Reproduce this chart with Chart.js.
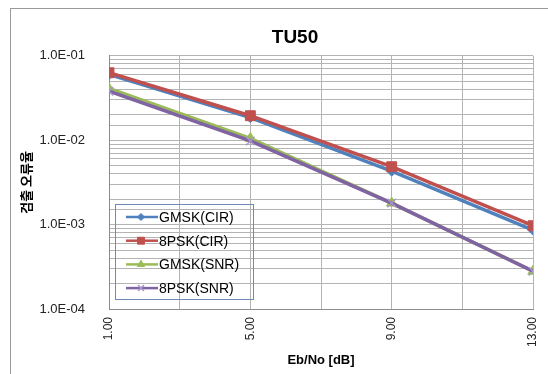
<!DOCTYPE html>
<html>
<head>
<meta charset="utf-8">
<script src="https://cdn.jsdelivr.net/npm/chart.js@4.4.1/dist/chart.umd.min.js"></script>
<style>
  html, body { margin: 0; padding: 0; background: #fff; overflow: hidden; }
  #wrap { width: 548px; height: 374px; overflow: hidden; position: relative; }
</style>
</head>
<body>
<div id="wrap"><canvas id="myChart" width="580" height="380"></canvas></div>
<script>
// Eb/No points (dB) and detection error rates
var ebNo = [1, 5, 9, 13];
var gmskCir = [0.060, 0.0185, 0.0043, 0.00086];
var psk8Cir = [0.063, 0.0195, 0.00485, 0.00097];
var gmskSnr = [0.041, 0.0105, 0.0018, 0.00028];
var psk8Snr = [0.038, 0.0098, 0.0018, 0.00028];
var seriesNames = ['GMSK(CIR)', '8PSK(CIR)', 'GMSK(SNR)', '8PSK(SNR)'];
var xLabelled = [1, 5, 9, 13];

function pts(vals) {
  return vals.map(function(v, i) { return { x: ebNo[i], y: v }; });
}

function sciLabel(v) {
  var e = Math.round(Math.log10(v));
  if (Math.abs(Math.log10(v) - e) > 1e-6) return '';
  var s = Math.abs(e) < 10 ? '0' + Math.abs(e) : '' + Math.abs(e);
  return '1.0E' + (e < 0 ? '-' : '+') + s;
}

var FONT = 'Liberation Sans, Arial, sans-serif';

// border round the whole chart
var chartBorder = {
  id: 'chartBorder',
  beforeDraw: function(chart) {
    var ctx = chart.ctx;
    ctx.save();
    ctx.fillStyle = '#fff';
    ctx.fillRect(0, 0, chart.width, chart.height);
    ctx.strokeStyle = '#9a9a9a';
    ctx.lineWidth = 1;
    ctx.strokeRect(10.5, 8.5, chart.width, chart.height);
    ctx.restore();
  }
};

// legend drawn inside the plot, lower left
var insideLegend = {
  id: 'insideLegend',
  afterDatasetsDraw: function(chart, args, opts) {
    var ctx = chart.ctx;
    ctx.save();
    ctx.strokeStyle = '#6f8ab5';
    ctx.lineWidth = 1;
    ctx.strokeRect(opts.x + 0.5, opts.y + 0.5, opts.width, opts.height);
    ctx.font = '14px ' + FONT;
    ctx.textBaseline = 'middle';
    chart.data.datasets.forEach(function(ds, i) {
      var cy = opts.y + 13 + i * 23.7;
      ctx.strokeStyle = ds.borderColor;
      ctx.lineWidth = 2.5;
      ctx.beginPath();
      ctx.moveTo(opts.x + 11, cy);
      ctx.lineTo(opts.x + 43, cy);
      ctx.stroke();
      ctx.fillStyle = ds.pointBackgroundColor;
      ctx.strokeStyle = ds.pointBorderColor;
      ctx.lineWidth = ds.pointBorderWidth;
      Chart.helpers.drawPoint(ctx, {
        pointStyle: ds.pointStyle,
        radius: ds.pointRadius * 0.7,
        rotation: 0,
        borderWidth: ds.pointBorderWidth
      }, opts.x + 26, cy);
      ctx.fillStyle = '#000';
      ctx.fillText(ds.label, opts.x + 44, cy + 1);
    });
    ctx.restore();
  }
};

var ctx = document.getElementById('myChart').getContext('2d');
var mychart = new Chart(ctx, {
  type: 'line',
  data: {
    datasets: [
      {
        label: seriesNames[0], data: pts(gmskCir), order: 3,
        borderColor: '#4f81bd', borderWidth: 3.5,
        pointStyle: 'rectRot', pointRadius: 5,
        pointBackgroundColor: '#4f81bd', pointBorderColor: '#4f81bd', pointBorderWidth: 1
      },
      {
        label: seriesNames[1], data: pts(psk8Cir), order: 2,
        borderColor: '#c0504d', borderWidth: 3.5,
        pointStyle: 'rect', pointRadius: 7,
        pointBackgroundColor: '#c0504d', pointBorderColor: '#c0504d', pointBorderWidth: 1
      },
      {
        label: seriesNames[2], data: pts(gmskSnr), order: 1,
        borderColor: '#9bbb59', borderWidth: 3.5,
        pointStyle: 'triangle', pointRadius: 6,
        pointBackgroundColor: '#9bbb59', pointBorderColor: '#9bbb59', pointBorderWidth: 1
      },
      {
        label: seriesNames[3], data: pts(psk8Snr), order: 0,
        borderColor: '#7f63a3', borderWidth: 3.5,
        pointStyle: 'crossRot', pointRadius: 6,
        pointBackgroundColor: '#a898c8', pointBorderColor: '#a898c8', pointBorderWidth: 1.5
      }
    ]
  },
  options: {
    responsive: false,
    animation: false,
    layout: { padding: { left: 10, top: 8, right: 0, bottom: 10 } },
    plugins: {
      legend: { display: false },
      tooltip: { enabled: false },
      title: {
        display: true,
        text: 'TU50',
        color: '#000',
        font: { family: FONT, size: 19, weight: 'bold' },
        padding: { top: 18, bottom: 7 }
      },
      insideLegend: { x: 115, y: 204, width: 138, height: 95 }
    },
    scales: {
      x: {
        type: 'linear',
        min: 1,
        max: 13,
        afterFit: function(scale) { scale.height = 61; },
        grid: { color: '#b4b4b4', drawTicks: false },
        border: { color: '#8c8c8c' },
        ticks: {
          stepSize: 2,
          autoSkip: false,
          minRotation: 90,
          maxRotation: 90,
          padding: 8,
          color: '#222',
          font: { family: FONT, size: 12 },
          callback: function(v) { return xLabelled.indexOf(v) >= 0 ? v.toFixed(2) : ''; }
        },
        title: {
          display: true,
          text: 'Eb/No [dB]',
          color: '#000',
          font: { family: FONT, size: 13, weight: 'bold' },
          padding: { top: 2, bottom: 2 }
        }
      },
      y: {
        type: 'logarithmic',
        min: 1e-4,
        max: 1e-1,
        afterFit: function(scale) { scale.width = 99; },
        grid: { color: '#b4b4b4', drawTicks: false },
        border: { color: '#8c8c8c' },
        ticks: {
          autoSkip: false,
          padding: 24,
          color: '#222',
          font: { family: FONT, size: 13 },
          callback: function(v) { return sciLabel(v); }
        },
        title: {
          display: true,
          text: '검출 오류율',
          color: '#000',
          font: { family: 'Noto Sans CJK KR, sans-serif', size: 13, weight: 'bold' },
          padding: { top: 8, bottom: 4 }
        }
      },
      // empty right-hand strip: the chart runs on past the window edge
      yRight: {
        type: 'logarithmic',
        position: 'right',
        min: 1e-4,
        max: 1e-1,
        afterFit: function(scale) { scale.width = 47; },
        grid: { display: false },
        border: { display: false },
        ticks: { display: false }
      }
    }
  },
  plugins: [chartBorder, insideLegend]
});
</script>
</body>
</html>
